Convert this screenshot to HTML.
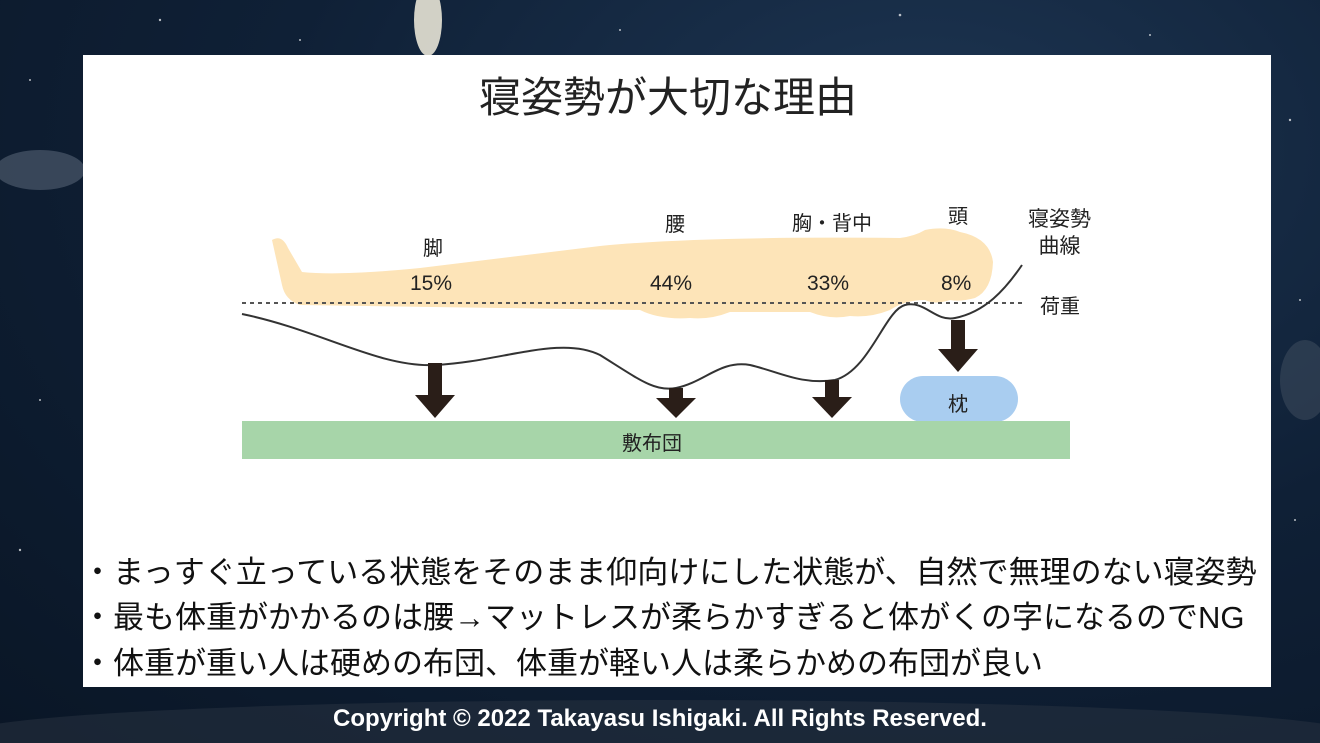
<!DOCTYPE html>
<html><head><meta charset="utf-8"><style>
body{margin:0;width:1320px;height:743px;overflow:hidden;background:radial-gradient(ellipse at 70% 20%,#1d3552 0%,#0f2036 50%,#0a1626 100%);font-family:"Liberation Sans","Noto Sans CJK JP",sans-serif;position:relative}
.panel{position:absolute;left:83px;top:55px;width:1188px;height:632px;background:#fff}
.t{position:absolute;white-space:nowrap;color:#222}
</style></head><body>
<svg width="1320" height="743" style="position:absolute;left:0;top:0">
<ellipse cx="428" cy="20" rx="14" ry="36" fill="#e8e4d6" opacity="0.9"/>
<g fill="#fff" opacity="0.7"><circle cx="30" cy="80" r="1"/><circle cx="160" cy="20" r="1.2"/><circle cx="300" cy="40" r="1"/><circle cx="620" cy="30" r="1"/><circle cx="900" cy="15" r="1.3"/><circle cx="1150" cy="35" r="1"/><circle cx="1290" cy="120" r="1.2"/><circle cx="1300" cy="300" r="1"/><circle cx="40" cy="400" r="1"/><circle cx="20" cy="550" r="1.2"/><circle cx="1295" cy="520" r="1"/></g>
<ellipse cx="40" cy="170" rx="45" ry="20" fill="#8a96a6" opacity="0.35"/>
<ellipse cx="1305" cy="380" rx="25" ry="40" fill="#5a6572" opacity="0.35"/>
<ellipse cx="660" cy="735" rx="700" ry="35" fill="#2a3442" opacity="0.5"/>
</svg>
<div class="panel"></div>
<svg width="1320" height="743" style="position:absolute;left:0;top:0">
<path d="M272,240 Q282,234 288,248 L302,272 Q340,276 420,268 L600,246 Q700,236 900,238 Q915,236 925,230 Q945,226 960,232 Q990,238 993,262 Q992,290 975,298 Q960,302 950,300 Q935,305 925,300 Q905,300 890,310 Q870,318 850,316 Q830,320 810,312 L730,312 Q710,320 690,318 Q660,320 640,310 L300,305 Q285,300 282,285 Z" fill="#fde4b8"/>
<line x1="242" y1="303" x2="1022" y2="303" stroke="#555" stroke-width="2" stroke-dasharray="4,4"/>
<path d="M242,314 C320,330 380,368 435,365 C500,362 560,335 600,355 C640,380 655,392 676,388 C705,382 720,360 750,365 C780,372 800,385 835,380 C870,370 885,310 905,305 C925,300 935,322 955,318 C985,312 1005,290 1022,265" fill="none" stroke="#333" stroke-width="2"/>
<g fill="#2a1e18">
<rect x="428" y="363" width="14" height="32"/><polygon points="415,395 455,395 435,418"/>
<rect x="669" y="388" width="14" height="12"/><polygon points="656,398 696,398 676,418"/>
<rect x="825" y="380" width="14" height="18"/><polygon points="812,397 852,397 832,418"/>
<rect x="951" y="320" width="14" height="30"/><polygon points="938,349 978,349 958,372"/>
</g>
<rect x="900" y="376" width="118" height="46" rx="23" fill="#a9cdf0"/>
<rect x="242" y="421" width="828" height="38" fill="#a7d5a9"/>
</svg>
<div class="t" style="left:0;width:1336px;text-align:center;top:64px;font-size:42px">寝姿勢が大切な理由</div>
<div class="t" style="left:423px;top:232px;font-size:20px">脚</div>
<div class="t" style="left:665px;top:208px;font-size:20px">腰</div>
<div class="t" style="left:792px;top:207px;font-size:20px">胸・背中</div>
<div class="t" style="left:948px;top:200px;font-size:20px">頭</div>
<div class="t" style="left:1028px;top:206px;font-size:21px;line-height:27px;text-align:center">寝姿勢<br>曲線</div>
<div class="t" style="left:1040px;top:290px;font-size:20px">荷重</div>
<div class="t" style="left:410px;top:272px;font-size:21px">15%</div>
<div class="t" style="left:650px;top:272px;font-size:21px">44%</div>
<div class="t" style="left:807px;top:272px;font-size:21px">33%</div>
<div class="t" style="left:941px;top:272px;font-size:21px">8%</div>
<div class="t" style="left:948px;top:388px;font-size:20px">枕</div>
<div class="t" style="left:622px;top:427px;font-size:20px">敷布団</div>
<div class="t" style="left:82px;top:547px;font-size:31px;color:#111">・まっすぐ立っている状態をそのまま仰向けにした状態が、自然で無理のない寝姿勢</div>
<div class="t" style="left:82px;top:592px;font-size:31px;color:#111">・最も体重がかかるのは腰→マットレスが柔らかすぎると体がくの字になるのでNG</div>
<div class="t" style="left:82px;top:638px;font-size:31px;color:#111">・体重が重い人は硬めの布団、体重が軽い人は柔らかめの布団が良い</div>
<div class="t" style="left:0;width:1320px;text-align:center;top:705px;font-size:24px;color:#fff;font-weight:bold">Copyright © 2022 Takayasu Ishigaki. All Rights Reserved.</div>
</body></html>
